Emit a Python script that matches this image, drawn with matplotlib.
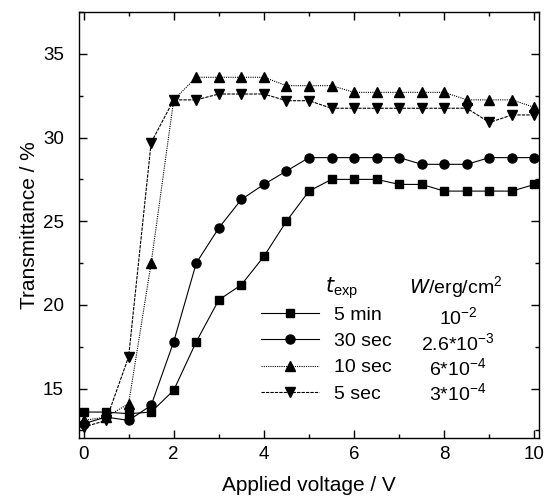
import matplotlib
matplotlib.use("Agg")
import matplotlib.pyplot as plt
from matplotlib.ticker import MultipleLocator

plt.rcParams['font.family'] = ['Liberation Sans', 'DejaVu Sans']

voltage = [0, 0.5, 1, 1.5, 2, 2.5, 3, 3.5, 4, 4.5, 5, 5.5, 6, 6.5, 7, 7.5, 8, 8.5, 9, 9.5, 10]
t_5min = [13.6, 13.6, 13.5, 13.6, 14.9, 17.8, 20.3, 21.2, 22.9, 25.0, 26.8, 27.5, 27.5, 27.5,
          27.2, 27.2, 26.8, 26.8, 26.8, 26.8, 27.2]
t_30sec = [12.9, 13.3, 13.1, 14.0, 17.8, 22.5, 24.6, 26.3, 27.2, 28.0, 28.8, 28.8, 28.8, 28.8,
           28.8, 28.4, 28.4, 28.4, 28.8, 28.8, 28.8]
t_10sec = [13.1, 13.3, 14.1, 22.5, 32.25, 33.6, 33.6, 33.6, 33.6, 33.1, 33.1, 33.1, 32.7, 32.7,
           32.7, 32.7, 32.7, 32.25, 32.25, 32.25, 31.8]
t_5sec = [12.7, 13.1, 16.9, 29.7, 32.25, 32.25, 32.6, 32.6, 32.6, 32.2, 32.2, 31.75, 31.75, 31.75,
          31.75, 31.75, 31.75, 31.75, 30.9, 31.35, 31.35]

labels_t = ["5 min", "30 sec", "10 sec", "5 sec"]
labels_w = [r"10$^{\mathregular{-2}}$", r"2.6*10$^{\mathregular{-3}}$",
            r"6*10$^{\mathregular{-4}}$", r"3*10$^{\mathregular{-4}}$"]

fig = plt.figure(figsize=(5.48, 4.96), dpi=100)
ax = fig.add_axes([79/548, 1-438/496, 460/548, 426/496])

ms = 6
lw = 0.8
ax.plot(voltage, t_5min, 's-', color='black', lw=lw, ms=ms, label=labels_t[0])
ax.plot(voltage, t_30sec, 'o-', color='black', lw=lw, ms=ms+0.5, label=labels_t[1])
ax.plot(voltage, t_10sec, '^', linestyle=(0, (1, 1)), color='black', lw=lw, ms=ms+1, label=labels_t[2])
ax.plot(voltage, t_5sec, 'v', linestyle=(0, (3, 1)), color='black', lw=lw, ms=ms+1, label=labels_t[3])

ax.set_xlim(-0.1, 10.1)
ax.set_ylim(12.05, 37.5)
ax.xaxis.set_major_locator(MultipleLocator(2))
ax.xaxis.set_minor_locator(MultipleLocator(1))
ax.yaxis.set_major_locator(MultipleLocator(5))
ax.yaxis.set_minor_locator(MultipleLocator(2.5))
ax.tick_params(which='both', direction='in', top=True, right=True, labelsize=13.5, width=1)
ax.tick_params(which='major', length=6)
ax.tick_params(which='minor', length=3)
ax.tick_params(axis='x', which='major', pad=6)
ax.tick_params(axis='y', which='major', pad=11)
for s in ax.spines.values():
    s.set_linewidth(1.0)

ax.set_xlabel("Applied voltage / V", fontsize=15, labelpad=9)
ax.set_ylabel("Transmittance / %", fontsize=15, labelpad=3)

leg = ax.legend(loc='upper left', bbox_to_anchor=((261 - 79) / 460, (438 - 306) / 426),
                frameon=False, fontsize=14, handlelength=3.0, handletextpad=0.75,
                labelspacing=0.45, borderaxespad=0, borderpad=0)

# header and W column
ax.text((342 - 79) / 460, (438 - 288) / 426, r"$t_{\mathregular{exp}}$", transform=ax.transAxes,
        fontsize=15, ha='center', va='center')
ax.text((456 - 79) / 460, (438 - 294) / 426, r"$W$/erg/cm$^{\mathregular{2}}$", transform=ax.transAxes,
        fontsize=14, ha='center', va='baseline')
row_y = [325, 351, 376, 401]
for yy, lab in zip(row_y, labels_w):
    ax.text((458 - 79) / 460, (438 - yy) / 426, lab, transform=ax.transAxes,
            fontsize=14, ha='center', va='baseline')

fig.savefig("out.png", dpi=100)
